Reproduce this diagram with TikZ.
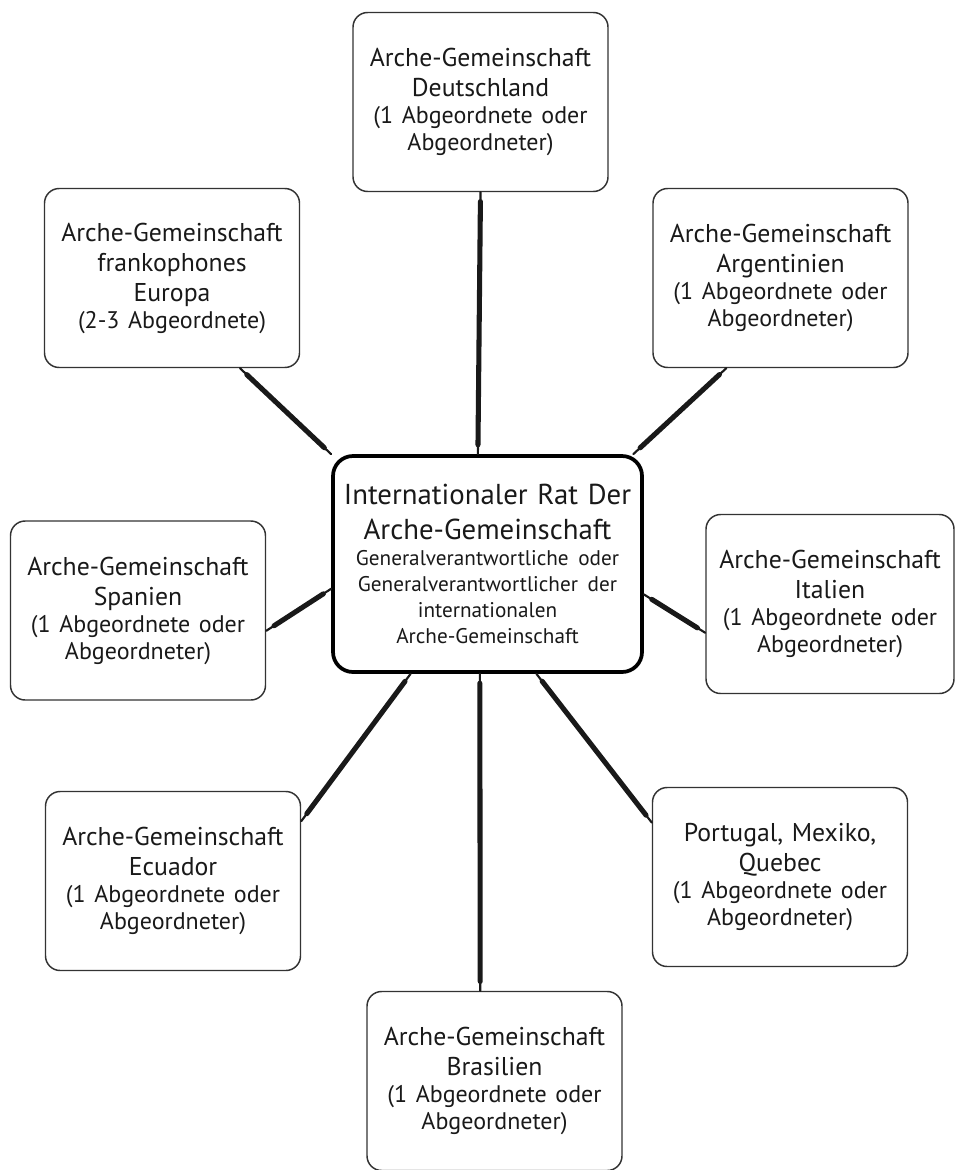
\documentclass[tikz,border=0pt]{standalone}
\usepackage{fontspec}
\setmainfont{PT Sans}
\newcommand{\boxhead}{\fontsize{19.3}{22.5}\selectfont}
\newcommand{\boxnote}{\fontsize{18}{20.25}\selectfont}
\newcommand{\rathead}{\fontsize{21.6}{26.5}\selectfont}
\newcommand{\ratnote}{\fontsize{15.9}{19.5}\selectfont}
\begin{document}
\begin{tikzpicture}[x=0.75pt,y=0.75pt,yscale=-1,xscale=1,
  member/.style={draw=black!80, line width=1.1pt, rounded corners=11pt,
    minimum width=191.25pt, minimum height=134.25pt, inner sep=0pt,
    text width=176pt, align=center, text=black!90, font=\boxhead},
  council/.style={draw=black, line width=2.8pt, rounded corners=15pt,
    minimum width=231.75pt, minimum height=162pt, inner sep=0pt,
    text width=226pt, align=center, text=black!90, font=\rathead},
  brushcore/.style={line width=3.8pt, line cap=round, black!90, shorten <=7pt, shorten >=7pt},
  brushtip/.style={line width=1.6pt, line cap=round, black!90}]
\useasboundingbox (0,0) rectangle (955,1170);

%Shape: Council
\node[council] (rat) at (487.5,564) {Internationaler Rat Der\\Arche-Gemeinschaft\par\ratnote Generalverantwortliche oder\\Generalverantwortlicher der\\internationalen\\Arche-Gemeinschaft\par};

%Shape: Members
\node[member] (de) at (480.5,102) {Arche-Gemeinschaft\\Deutschland\par\boxnote (1 Abgeordnete oder\\Abgeordneter)\par};
\node[member] (fr) at (172,278) {Arche-Gemeinschaft\\frankophones\\Europa\par\boxnote (2-3 Abgeordnete)\par};
\node[member] (ar) at (780.5,278) {Arche-Gemeinschaft\\Argentinien\par\boxnote (1 Abgeordnete oder\\Abgeordneter)\par};
\node[member] (es) at (138,610.5) {Arche-Gemeinschaft\\Spanien\par\boxnote (1 Abgeordnete oder\\Abgeordneter)\par};
\node[member, minimum width=186pt] (it) at (830,604) {Arche-Gemeinschaft\\Italien\par\boxnote (1 Abgeordnete oder\\Abgeordneter)\par};
\node[member] (ec) at (173,881) {Arche-Gemeinschaft\\Ecuador\par\boxnote (1 Abgeordnete oder\\Abgeordneter)\par};
\node[member] (pt) at (780,877) {Portugal, Mexiko,\\Quebec\par\boxnote (1 Abgeordnete oder\\Abgeordneter)\par};
\node[member] (br) at (494.5,1081) {Arche-Gemeinschaft\\Brasilien\par\boxnote (1 Abgeordnete oder\\Abgeordneter)\par};

%Brush Lines
\foreach \from/\to in {de.south/rat.95, fr.-53/rat.north west, ar.-121/rat.37,
    es.-9/rat.-171, it.-167/rat.-11, ec.25/rat.-125, br.99/rat.-94, pt.157/rat.-66}
  {\draw[brushtip] (\from) -- (\to);
   \draw[brushcore] (\from) -- (\to);}

\end{tikzpicture}
\end{document}
